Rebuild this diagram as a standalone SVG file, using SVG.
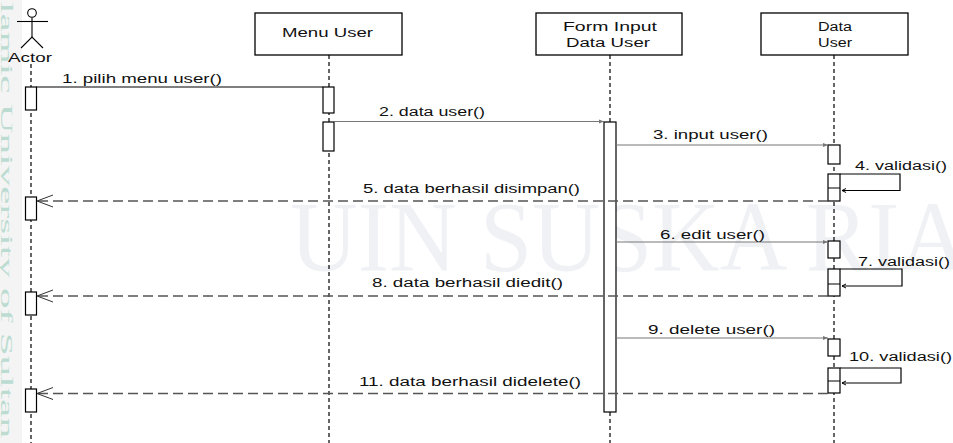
<svg xmlns="http://www.w3.org/2000/svg" width="953" height="443" viewBox="0 0 953 443">
<style>
text{font-family:"Liberation Sans",Arial,sans-serif;font-size:12px;fill:#111}
.box{fill:#fff;stroke:#000;stroke-width:1.3}
.life{stroke:#000;stroke-width:1.2;stroke-dasharray:4 3;fill:none}
.act{fill:#fff;stroke:#000;stroke-width:1.2}
.msg{stroke:#777;stroke-width:1;fill:none}
.msg1{stroke:#000;stroke-width:1.2;fill:none}
.ret{stroke:#555;stroke-width:1.3;stroke-dasharray:10 5;fill:none}
.open{stroke:#333;stroke-width:1;fill:none}
.loop{stroke:#000;stroke-width:1.2;fill:none}
text.wm{font-family:"Liberation Serif",serif;fill:#eff1f5;font-size:100px}
text.wm2{font-family:"Liberation Serif",serif;fill:#bcdcd2;font-size:16px}
</style>
<defs>
<marker id="sa" markerWidth="6" markerHeight="6" refX="5" refY="3" orient="auto" markerUnits="userSpaceOnUse">
<path d="M0,1 L5,3 L0,5 z" fill="#777"/>
</marker>
</defs>
<rect width="953" height="443" fill="#fff"/>
<g id="watermark">
<rect x="0" y="0" width="22" height="443" fill="#f4f4f4"/>
<text class="wm2" transform="translate(1,0) rotate(90)" x="2" y="0" textLength="436" lengthAdjust="spacingAndGlyphs">lamic University of Sultan</text>
<text class="wm" x="290" y="270" textLength="745" lengthAdjust="spacingAndGlyphs">UIN SUSKA RIAU</text>
</g>
<g id="lifelines">
<line class="life" x1="31" y1="64" x2="31" y2="443"/>
<line class="life" x1="329" y1="55" x2="329" y2="443"/>
<line class="life" x1="610" y1="55" x2="610" y2="443"/>
<line class="life" x1="834" y1="55" x2="834" y2="443"/>
</g>
<g id="actor">
<circle cx="32" cy="13" r="4.3" fill="#fff" stroke="#000" stroke-width="1.1"/>
<line x1="32" y1="17.5" x2="32" y2="37" stroke="#000" stroke-width="1.1"/>
<line x1="17" y1="21.5" x2="48" y2="21.5" stroke="#000" stroke-width="1.1"/>
<polyline points="21,48 32,37 43,48" fill="none" stroke="#000" stroke-width="1.1"/>
<text x="8" y="62" textLength="44" lengthAdjust="spacingAndGlyphs">Actor</text>
</g>
<g id="menu-user">
<rect class="box" x="255" y="13" width="147" height="42"/>
<text x="282" y="37" textLength="91" lengthAdjust="spacingAndGlyphs">Menu User</text>
</g>
<g id="form-input">
<rect class="box" x="536" y="13" width="146" height="42"/>
<text x="563" y="31" textLength="94" lengthAdjust="spacingAndGlyphs">Form Input</text>
<text x="566" y="47" textLength="84" lengthAdjust="spacingAndGlyphs">Data User</text>
</g>
<g id="data-user">
<rect class="box" x="761" y="13" width="147" height="42"/>
<text x="818" y="31" textLength="34" lengthAdjust="spacingAndGlyphs">Data</text>
<text x="818" y="47" textLength="34" lengthAdjust="spacingAndGlyphs">User</text>
</g>
<g id="activations">
<rect class="act" x="25.5" y="87" width="11" height="23"/>
<rect class="act" x="25.5" y="197" width="11" height="23"/>
<rect class="act" x="25.5" y="292" width="11" height="23"/>
<rect class="act" x="25.5" y="389" width="11" height="23"/>
<rect class="act" x="323" y="87" width="11" height="26"/>
<rect class="act" x="323" y="122" width="11" height="29"/>
<rect class="act" x="604" y="122" width="12" height="290"/>
<rect class="act" x="828" y="145" width="12" height="19"/>
<rect class="act" x="828" y="241" width="12" height="17"/>
<rect class="act" x="828" y="339" width="12" height="17"/>
<rect class="act" x="828" y="174" width="12" height="27"/>
<line x1="828" y1="188" x2="840" y2="188" stroke="#000" stroke-width="1"/>
<rect class="act" x="828" y="269" width="12" height="27"/>
<line x1="828" y1="284" x2="840" y2="284" stroke="#000" stroke-width="1"/>
<rect class="act" x="828" y="368" width="12" height="25"/>
<line x1="828" y1="381" x2="840" y2="381" stroke="#000" stroke-width="1"/>
</g>
<g id="connectors">
<line class="msg1" x1="36.5" y1="87" x2="323" y2="87"/>
<line class="msg" x1="334" y1="121.5" x2="604" y2="121.5" marker-end="url(#sa)"/>
<line class="msg" x1="616" y1="145" x2="828" y2="145" marker-end="url(#sa)"/>
<line class="msg" x1="616" y1="242" x2="828" y2="242" marker-end="url(#sa)"/>
<line class="msg" x1="616" y1="338" x2="828" y2="338" marker-end="url(#sa)"/>
<path class="loop" d="M840 174 H900 V190.5 H842"/>
<path d="M846 188.5 L842 190.5 L846 192.5" fill="none" stroke="#000" stroke-width="1"/>
<path class="loop" d="M840 269 H902 V286 H842"/>
<path d="M846 284 L842 286 L846 288" fill="none" stroke="#000" stroke-width="1"/>
<path class="loop" d="M840 368 H901 V383 H842"/>
<path d="M846 381 L842 383 L846 385" fill="none" stroke="#000" stroke-width="1"/>
<line class="ret" x1="828" y1="201" x2="37" y2="201"/>
<polyline class="open" points="53,195 37,201 53,207"/>
<line class="ret" x1="828" y1="296" x2="37" y2="296"/>
<polyline class="open" points="53,290 37,296 53,302"/>
<line class="ret" x1="828" y1="393.5" x2="37" y2="393.5"/>
<polyline class="open" points="53,387.5 37,393.5 53,399.5"/>
</g>
<g id="labels">
<text x="62" y="83" textLength="160" lengthAdjust="spacingAndGlyphs">1. pilih menu user()</text>
<text x="379" y="116" textLength="106" lengthAdjust="spacingAndGlyphs">2. data user()</text>
<text x="653" y="139" textLength="115" lengthAdjust="spacingAndGlyphs">3. input user()</text>
<text x="855" y="170" textLength="92" lengthAdjust="spacingAndGlyphs">4. validasi()</text>
<text x="363" y="193" textLength="217" lengthAdjust="spacingAndGlyphs">5. data berhasil disimpan()</text>
<text x="660" y="239" textLength="105" lengthAdjust="spacingAndGlyphs">6. edit user()</text>
<text x="858" y="266" textLength="92" lengthAdjust="spacingAndGlyphs">7. validasi()</text>
<text x="372" y="287" textLength="191" lengthAdjust="spacingAndGlyphs">8. data berhasil diedit()</text>
<text x="648" y="334" textLength="127" lengthAdjust="spacingAndGlyphs">9. delete user()</text>
<text x="849" y="361" textLength="103" lengthAdjust="spacingAndGlyphs">10. validasi()</text>
<text x="359" y="386" textLength="222" lengthAdjust="spacingAndGlyphs">11. data berhasil didelete()</text>
</g>
</svg>
